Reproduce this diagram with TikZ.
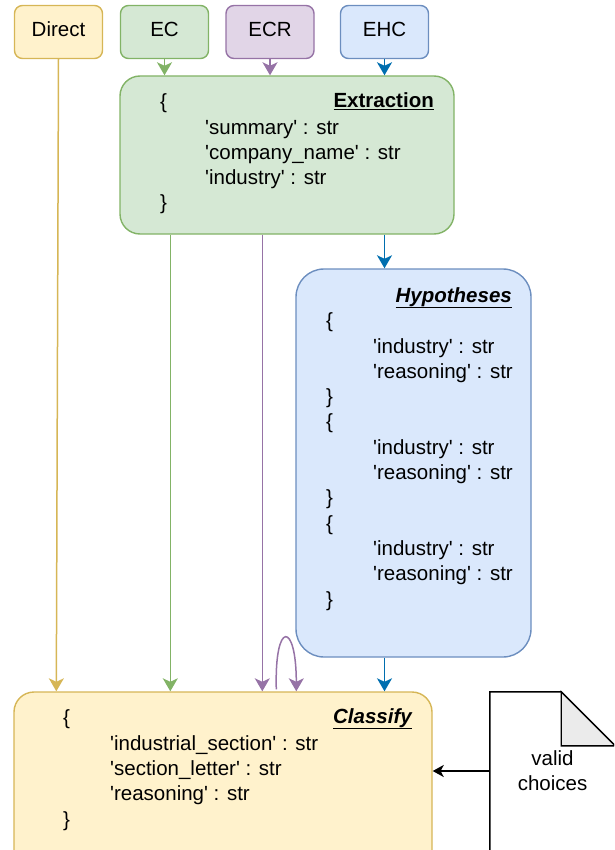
\documentclass[tikz,border=0pt]{standalone}
\usepackage{fontspec}
\setmainfont{Liberation Sans}
\usetikzlibrary{arrows.meta,positioning,calc}
\definecolor{SoftYellow}{HTML}{FFF2CC}
\definecolor{Yellow}{HTML}{D6B656}
\definecolor{SoftGreen}{HTML}{D5E8D4}
\definecolor{Green}{HTML}{82B366}
\definecolor{SoftPurple}{HTML}{E1D5E7}
\definecolor{Purple}{HTML}{9673A6}
\definecolor{SoftBlue}{HTML}{DAE8FC}
\definecolor{Blue}{HTML}{6C8EBF}
\definecolor{DeepBlue}{HTML}{006EAF}
\definecolor{Fold}{HTML}{EBEBEB}
\newcommand{\sq}{\textquotesingle}
\newcommand{\boxfont}{\fontsize{20.5}{25.3}\selectfont}
\tikzset{
 tag/.style={draw, rounded corners=8pt, line width=1.4pt, minimum width=88pt, minimum height=53pt, inner sep=0pt, text height=15pt, text depth=5.5pt, font=\boxfont},
 yellowtag/.style={tag, draw=Yellow, fill=SoftYellow},
 greentag/.style={tag, draw=Green, fill=SoftGreen},
 purpletag/.style={tag, draw=Purple, fill=SoftPurple},
 bluetag/.style={tag, draw=Blue, fill=SoftBlue},
 panel/.style={draw, line width=1.4pt, inner sep=0pt},
 greenpanel/.style={panel, draw=Green, fill=SoftGreen, rounded corners=20pt},
 bluepanel/.style={panel, draw=Blue, fill=SoftBlue, rounded corners=28pt},
 yellowpanel/.style={panel, draw=Yellow, fill=SoftYellow, rounded corners=20pt},
 fields/.style={inner sep=0pt, align=left, anchor=base west, font=\boxfont},
 heading/.style={inner sep=0pt, anchor=base east, font=\boxfont\bfseries},
 arrow/.style={-{Stealth[length=13pt,width=15pt,inset=3.5pt]}, line width=1.5pt},
 thinarrow/.style={-{Stealth[length=11pt,width=12pt,inset=3pt]}, line width=1.5pt, draw=black}
}
\begin{document}
\begin{tikzpicture}[x=1pt,y=-1pt]
\clip (0,0) rectangle (614,850);
\node[yellowtag] (direct) at (58.5,32) {Direct};
\node[greentag] (ec) at (164.5,32) {EC};
\node[purpletag] (ecr) at (270,32) {ECR};
\node[bluetag] (ehc) at (384.5,32) {EHC};
\node[greenpanel, minimum width=334pt, minimum height=158pt] (extraction) at (287,155) {};
\node[bluepanel, minimum width=235pt, minimum height=388pt] (hypotheses) at (413.5,463) {};
\node[yellowpanel, minimum width=418pt, minimum height=180pt] (classify) at (223,782) {};
% the file of valid choices
\node[minimum width=125pt, minimum height=158pt, inner sep=0pt] (choices) at (552.5,771) {};
\draw[line width=1.4pt, fill=white] ([yshift=-20pt]choices.south west) -- (choices.north west) -- ([xshift=-54pt]choices.north east) -- ([yshift=-54pt]choices.north east) -- ([yshift=-20pt]choices.south east);
\filldraw[line width=1.4pt, fill=Fold] ([xshift=-54pt]choices.north east) -- ([xshift=-54pt,yshift=-54pt]choices.north east) -- ([yshift=-54pt]choices.north east) -- cycle;
\node[font=\boxfont, align=center, inner sep=0pt] (choicestext) at (choices.center) {valid\\choices};
% schemas
\node[heading] (extractiontitle) at (434,108) {\underline{Extraction}};
\node[fields] (extractionfields) at (160,210) {\{\\\hspace*{45pt}\sq summary\sq{} : str\\\hspace*{45pt}\sq company\_name\sq{} : str\\\hspace*{45pt}\sq industry\sq{} : str\\\}};
\node[heading, font=\boxfont\bfseries\itshape] (hypothesestitle) at (512,302) {\underline{Hypotheses}};
\node[fields] (hypothesesfields) at (326,606) {\{\\\hspace*{47pt}\sq industry\sq{} : str\\\hspace*{47pt}\sq reasoning\sq{} : str\\\}\\\{\\\hspace*{47pt}\sq industry\sq{} : str\\\hspace*{47pt}\sq reasoning\sq{} : str\\\}\\\{\\\hspace*{47pt}\sq industry\sq{} : str\\\hspace*{47pt}\sq reasoning\sq{} : str\\\}};
\node[heading, font=\boxfont\bfseries\itshape] (classifytitle) at (412,723) {\underline{Classify}};
\node[fields] (classifyfields) at (63,826) {\{\\\hspace*{47pt}\sq industrial\_section\sq{} : str\\\hspace*{47pt}\sq section\_letter\sq{} : str\\\hspace*{47pt}\sq reasoning\sq{} : str\\\}};
% connectors
\draw[arrow, Yellow] (direct.south) -- ([xshift=43pt]classify.north west);
\draw[arrow, Green] (ec.south) -- (ec.south |- extraction.north);
\draw[arrow, Purple] (ecr.south) -- (ecr.south |- extraction.north);
\draw[arrow, DeepBlue] (ehc.south) -- (ehc.south |- extraction.north);
\draw[arrow, Green] ([xshift=51pt]extraction.south west) -- ([xshift=157pt]classify.north west);
\draw[arrow, Purple] ([xshift=143pt]extraction.south west) -- ([xshift=249pt]classify.north west);
\draw[arrow, DeepBlue] (extraction.south -| ehc) -- (hypotheses.north -| ehc);
\draw[arrow, DeepBlue] (hypotheses.south -| ehc) -- (classify.north -| ehc);
\draw[arrow, Purple] ([xshift=263pt,yshift=2pt]classify.north west) .. controls +(-2,-70) and +(0,-70) .. ([xshift=283pt]classify.north west);
\draw[thinarrow] (choices.west) -- (choices.west -| classify.east);
\end{tikzpicture}
\end{document}
